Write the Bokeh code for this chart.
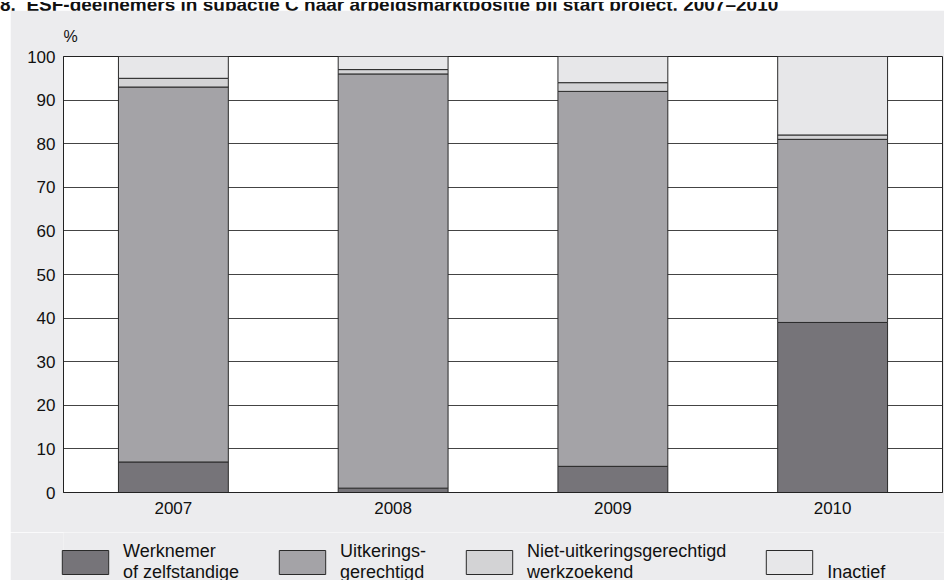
from bokeh.plotting import figure
from bokeh.models import (FactorRange, Range1d, Legend, Div, Spacer, SingleIntervalTicker)
from bokeh.layouts import column, row
from bokeh.embed import file_html
from bokeh.resources import INLINE

# ---- data ----
years = ["2007", "2008", "2009", "2010"]
werknemer = [7, 1, 6, 39]
uitkeringsgerechtigd = [86, 95, 86, 42]
niet_uitkeringsgerechtigd = [2, 1, 2, 1]
inactief = [5, 3, 6, 18]

series = ["werknemer", "uitk", "niet", "inactief"]
series_labels = ["Werknemer\nof zelfstandige", "Uitkerings-\ngerechtigd",
                 "Niet-uitkeringsgerechtigd\nwerkzoekend", " \nInactief"]
colors = ["#767479", "#a4a3a7", "#d3d3d5", "#e7e7e9"]
title_text = "8.&nbsp;&nbsp;ESF-deelnemers in subactie C naar arbeidsmarktpositie bij start project, 2007–2010"

source = dict(years=years, werknemer=werknemer, uitk=uitkeringsgerechtigd,
              niet=niet_uitkeringsgerechtigd, inactief=inactief)

FONT = "Liberation Sans"
BG = "#ececee"
TOTAL_W, TOTAL_H = 944, 580
PAD = 10
ML, MR, MT, MB = 53, 2, 46, 40
FW = TOTAL_W - PAD - ML - MR
FH = 436
LEG_H = TOTAL_H - PAD - MT - FH - MB

p = figure(frame_width=FW, frame_height=FH, x_range=FactorRange(*years), y_range=Range1d(0, 100),
           output_backend="svg", toolbar_location=None,
           min_border_left=ML, min_border_right=MR, min_border_top=MT, min_border_bottom=MB)
p.border_fill_color = BG
p.background_fill_color = "white"
p.outline_line_color = "#222222"
p.outline_line_width = 1

renderers = p.vbar_stack(series, x="years", width=0.5, source=source,
                         color=colors, line_color="#2a2a2a", line_width=1)

# "%" unit label as the plot title, at the top-left of the frame
p.title.text = "%"
p.title.align = "left"
p.title.offset = 0
p.title.standoff = 23
p.title.text_font = FONT
p.title.text_font_size = "16px"
p.title.text_font_style = "normal"
p.title.text_color = "#111111"

# axes
p.yaxis.ticker = SingleIntervalTicker(interval=10)
for ax in (p.xaxis[0], p.yaxis[0]):
    ax.major_label_text_font = FONT
    ax.major_label_text_font_size = "17px"
    ax.major_label_text_color = "#111111"
    ax.major_tick_out = 0
    ax.major_tick_in = 0
    ax.minor_tick_out = 0
    ax.minor_tick_in = 0
    ax.axis_line_color = "#222222"
p.yaxis.major_label_standoff = 8
p.xaxis.major_label_standoff = 9
p.xgrid.grid_line_color = None
p.ygrid.grid_line_color = "#444444"
p.ygrid.grid_line_width = 1

# ---- legend in its own strip below the chart ----
# same data, but the y range is chosen so the bars themselves fall outside this strip
lf = figure(frame_width=FW + ML + MR, frame_height=LEG_H, x_range=FactorRange(*years),
            y_range=Range1d(1000, 1001),
            output_backend="svg", toolbar_location=None,
            min_border=0, min_border_left=0, min_border_right=0, min_border_top=0, min_border_bottom=0)
lf.axis.visible = False
lf.grid.visible = False
lf.outline_line_color = None
lf.background_fill_color = BG
lf.border_fill_color = BG
leg_renderers = lf.vbar_stack(series, x="years", width=0.5, source=source,
                              color=colors, line_color="#2a2a2a", line_width=1)
legend = Legend(items=[(lab, [r]) for lab, r in zip(series_labels, leg_renderers)],
                orientation="horizontal", location=(46, -3),
                glyph_width=58, glyph_height=30, label_standoff=9, spacing=34,
                padding=0, margin=0, border_line_alpha=0, background_fill_alpha=0,
                label_text_font=FONT, label_text_font_size="18px",
                label_text_color="#111111")
lf.add_layout(legend, "center")

title_div = Div(
    text=('<div style="position:relative;width:%dpx;height:%dpx;overflow:hidden;background:white;">'
          '<div style="position:absolute;left:0;top:-7px;line-height:19px;white-space:nowrap;'
          'font-family:\'Liberation Sans\';font-weight:bold;font-size:19px;color:#111;">%s</div></div>'
          % (TOTAL_W, PAD, title_text)),
    width=TOTAL_W, height=PAD, margin=0)

layout = column(title_div,
                row(Spacer(width=PAD, height=TOTAL_H - PAD, margin=0),
                    column(p, lf, spacing=0), spacing=0),
                spacing=0)

open("out.html", "w").write(file_html(layout, INLINE))
